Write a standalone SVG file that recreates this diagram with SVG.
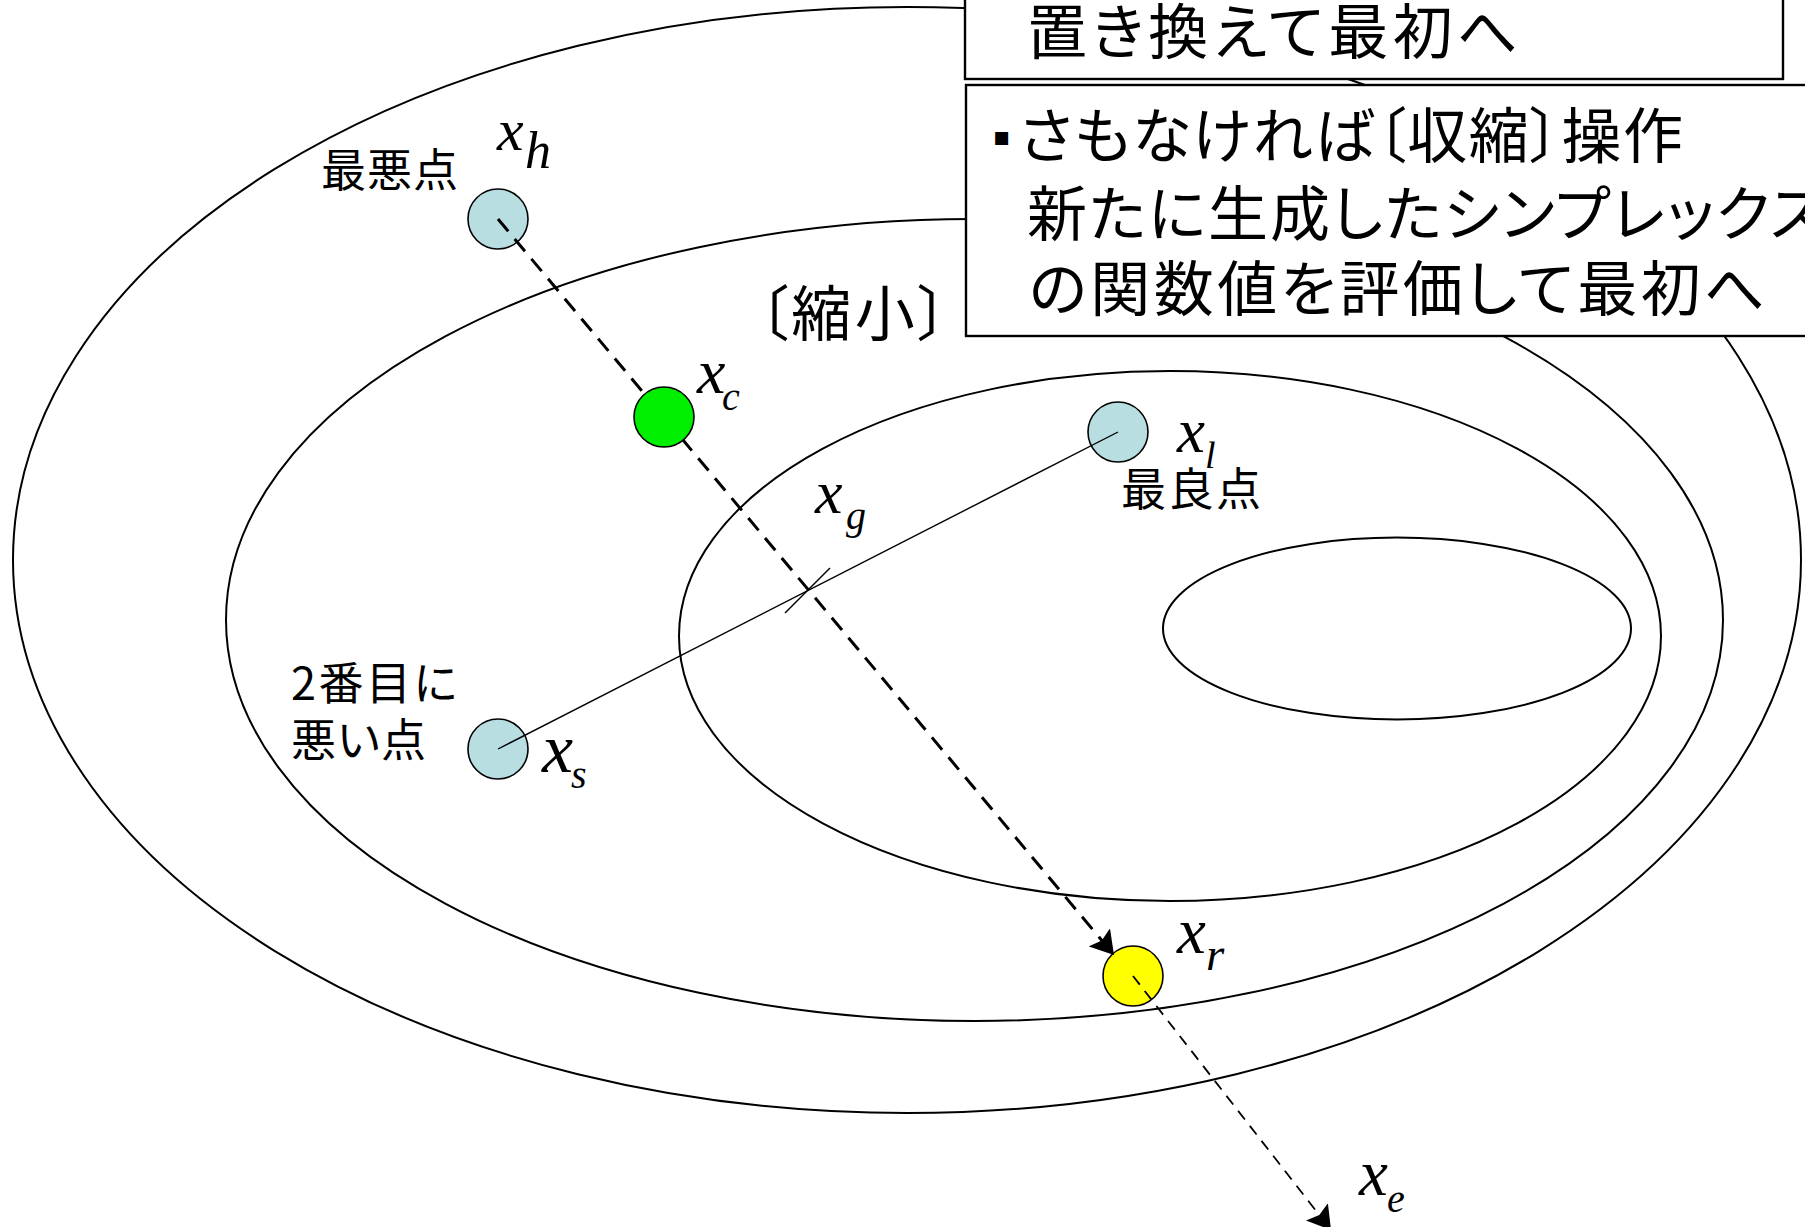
<svg xmlns="http://www.w3.org/2000/svg" width="1805" height="1227" viewBox="0 0 1805 1227">
<style>
  .contour { fill: none; stroke: #000; stroke-width: 2; }
  .pt { stroke: #000; stroke-width: 1.6; }
  .blue { fill: #b8dee2; }
  .jp { font-family: "Noto Sans CJK JP", "Noto Sans CJK SC", sans-serif; fill: #000; font-feature-settings: "palt" 1; }
  .box { fill: #fff; stroke: #000; stroke-width: 2.4; }
  .math { font-family: "Liberation Serif", "Times New Roman", serif; font-style: italic; fill: #000; }
  .dash1 { fill: none; stroke: #000; stroke-width: 3; stroke-dasharray: 16 10; }
  .dash2 { fill: none; stroke: #000; stroke-width: 1.8; stroke-dasharray: 11 8; }
  .thin { fill: none; stroke: #000; stroke-width: 1.4; }
</style>
<defs>
  <marker id="arrow" markerUnits="userSpaceOnUse" markerWidth="24" markerHeight="28" viewBox="0 0 24 28" refX="23" refY="14" orient="auto">
    <path d="M0,0 L23,14 L0,28 L4,14 z" fill="#000"/>
  </marker>
</defs>
<rect width="1805" height="1227" fill="#fff"/>

<g id="contours">
  <ellipse class="contour" cx="907" cy="560" rx="894" ry="553"/>
  <ellipse class="contour" cx="974.5" cy="620" rx="748.5" ry="401"/>
  <ellipse class="contour" cx="1170" cy="636" rx="491" ry="265"/>
  <ellipse class="contour" cx="1397" cy="628.5" rx="234" ry="91"/>
</g>

<g id="box-top">
  <rect class="box" x="965" y="-10" width="818" height="89"/>
  <text class="jp" x="1027" y="54" font-size="60" textLength="491" lengthAdjust="spacing">置き換えて最初へ</text>
</g>

<g id="box-contract">
  <rect class="box" x="966" y="85" width="860" height="251"/>
  <text x="993" y="145" font-size="26" font-family="DejaVu Sans, sans-serif">▪</text>
  <text class="jp" x="1019" y="158" font-size="60" textLength="664" lengthAdjust="spacing">さもなければ〔収縮〕操作</text>
  <text class="jp" x="1027" y="236" font-size="60" textLength="797" lengthAdjust="spacing">新たに生成したシンプレックス</text>
  <text class="jp" x="1029" y="311" font-size="60" textLength="736" lengthAdjust="spacing">の関数値を評価して最初へ</text>
</g>

<g id="label-shrink">
  <text class="jp" x="758" y="336" font-size="60" textLength="190" lengthAdjust="spacing">〔縮小〕</text>
</g>

<g id="node-xh">
  <circle class="pt blue" cx="498" cy="219" r="30"/>
  <text class="jp" x="321" y="187" font-size="45" textLength="137" lengthAdjust="spacing">最悪点</text>
  <text class="math" x="497" y="150" font-size="60">x</text>
  <text class="math" x="525" y="168" font-size="52">h</text>
</g>

<g id="node-xs">
  <circle class="pt blue" cx="498" cy="749" r="30"/>
  <text class="jp" x="291" y="700" font-size="45" textLength="166" lengthAdjust="spacing">2番目に</text>
  <text class="jp" x="291" y="757" font-size="45" textLength="135" lengthAdjust="spacing">悪い点</text>
  <text class="math" x="542" y="772" font-size="70">x</text>
  <text class="math" x="571" y="788" font-size="40">s</text>
</g>

<g id="node-xl">
  <circle class="pt blue" cx="1118" cy="432" r="30"/>
  <text class="math" x="1177" y="452" font-size="63">x</text>
  <text class="math" x="1205" y="468" font-size="38">l</text>
  <text class="jp" x="1121" y="506" font-size="45" textLength="140" lengthAdjust="spacing">最良点</text>
</g>

<g id="node-xr">
  <circle class="pt" cx="1133" cy="976" r="30" fill="#ffff00"/>
  <text class="math" x="1177" y="953" font-size="65">x</text>
  <text class="math" x="1206" y="970" font-size="47">r</text>
</g>

<g id="label-xg">
  <text class="math" x="815" y="513" font-size="62">x</text>
  <text class="math" x="846" y="529" font-size="40">g</text>
</g>

<g id="label-xe">
  <text class="math" x="1359" y="1195" font-size="65">x</text>
  <text class="math" x="1387" y="1212" font-size="40">e</text>
</g>

<g id="connectors">
  <line class="dash1" x1="498" y1="219" x2="1114" y2="955" marker-end="url(#arrow)"/>
  <line class="thin" x1="498" y1="749" x2="1118" y2="432"/>
  <line class="thin" x1="785" y1="613" x2="830" y2="568"/>
  <line class="dash2" x1="1133" y1="976" x2="1331" y2="1230" marker-end="url(#arrow)"/>
</g>

<g id="node-xc">
  <circle class="pt" cx="664" cy="417" r="30" fill="#00ee00"/>
  <text class="math" x="697" y="393" font-size="64">x</text>
  <text class="math" x="722" y="410" font-size="40">c</text>
</g>
</svg>
